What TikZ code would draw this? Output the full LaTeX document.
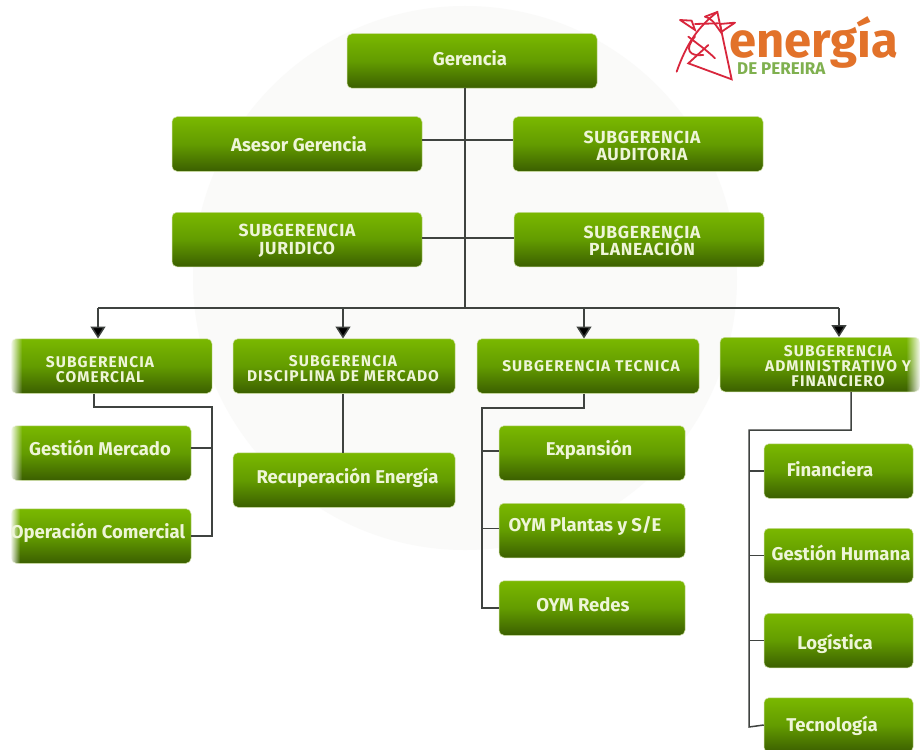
\documentclass[tikz,border=0pt]{standalone}
\usepackage{fontspec}
\setmainfont{Fira Sans}
\usetikzlibrary{fadings,arrows.meta}
\definecolor{gtop}{HTML}{7AB800}
\definecolor{gmid}{HTML}{639C00}
\definecolor{gbot}{HTML}{3B5F00}
\definecolor{txtc}{HTML}{EEF5D8}
\definecolor{wire}{HTML}{3F4340}
\definecolor{halo}{HTML}{FAFAF9}
\definecolor{logor}{HTML}{D8263C}
\definecolor{logoo}{HTML}{E2722A}
\definecolor{logog}{HTML}{7FB04F}
\definecolor{edgec}{HTML}{C9DC9A}
\tikzfading[name=fadeL,left color=transparent!0,right color=transparent!100]
\tikzfading[name=fadeR,left color=transparent!100,right color=transparent!0]
\tikzset{
  gbox/.style={rectangle,rounded corners=5pt,inner sep=0pt,draw=edgec,line width=.5pt,top color=gtop,bottom color=gbot,middle color=gmid,
    minimum width=#1},
  gbox/.default=180pt,
  hbig/.style={minimum height=54.5pt},
  lbl/.style={text=txtc,font=\bfseries\fontsize{18.5}{18.5}\selectfont,align=center,inner sep=0pt},
  capb/.style={text=txtc,font=\bfseries\fontsize{17.5}{17.5}\selectfont\addfontfeature{LetterSpace=4},align=center,inner sep=0pt},
  caps/.style={text=txtc,font=\bfseries\fontsize{15.5}{15}\selectfont\addfontfeature{LetterSpace=7},align=center,inner sep=0pt},
  wireline/.style={draw=wire,line width=1.5pt,line join=miter},
  arr/.style={wireline,-{Triangle[width=15pt,length=12pt,fill=black]}}
}
\begin{document}
\begin{tikzpicture}[x=1pt,y=-1pt]
\useasboundingbox (0,0) rectangle (920,749);
\fill[white] (0,0) rectangle (920,749);
\fill[halo] (465,278) circle (272pt);
% boxes
\node[gbox=250pt,hbig] (ger) at (472,61) {};
\node[gbox=250pt,hbig] (ase) at (297,144) {};
\node[gbox=250pt,hbig] (aud) at (638,144) {};
\node[gbox=250pt,hbig] (jur) at (297,239.5) {};
\node[gbox=250pt,hbig] (pla) at (639,239.5) {};
\node[gbox=201pt,hbig] (com) at (111.5,366) {};
\node[gbox=222pt,hbig] (dis) at (344,366) {};
\node[gbox=222pt,hbig] (tec) at (588,366) {};
\node[gbox=200pt,hbig] (adm) at (820,364.5) {};
\node[gbox=180pt,hbig] (gme) at (101,453) {};
\node[gbox=180pt,hbig] (ope) at (101,536) {};
\node[gbox=222pt,hbig] (rec) at (344,480) {};
\node[gbox=186pt,hbig] (exp) at (592,453) {};
\node[gbox=186pt,hbig] (oyp) at (592,530.5) {};
\node[gbox=186pt,hbig] (oyr) at (592,608) {};
\node[gbox=149pt,hbig] (fin) at (838.5,471) {};
\node[gbox=149pt,hbig] (ghu) at (838.5,555.5) {};
\node[gbox=149pt,hbig] (log) at (838.5,640.5) {};
\node[gbox=149pt,hbig] (tcn) at (838.5,725) {};
% edge fades
\fill[white,path fading=fadeL] (10,335) rectangle (22,397);
\fill[white,path fading=fadeL] (10,422) rectangle (22,484);
\fill[white,path fading=fadeL] (10,505) rectangle (20,567);
\fill[white,path fading=fadeR] (906,333) rectangle (921,396);
\fill[white] (0,330) rectangle (11,570);
% labels
\node[lbl] at (299,144) {Asesor Gerencia};
\node[lbl] at (470,58) {Gerencia};
\node[capb] at (642,146) {SUBGERENCIA\\AUDITORIA};
\node[capb] at (297,241) {SUBGERENCIA\\JURIDICO};
\node[capb] at (642,241) {SUBGERENCIA\\PLANEACIÓN};
\node[caps] at (100,370) {SUBGERENCIA\\COMERCIAL};
\node[caps] at (343,368.5) {SUBGERENCIA\\DISCIPLINA DE MERCADO};
\node[caps] at (591,366) {SUBGERENCIA TECNICA};
\node[caps] at (838,366) {SUBGERENCIA\\ADMINISTRATIVO Y\\FINANCIERO};
\node[lbl] at (100,448) {Gestión Mercado};
\node[lbl] at (98,533) {Operación Comercial};
\node[lbl] at (347.5,478) {Recuperación Energía};
\node[lbl] at (589,450) {Expansión};
\node[lbl] at (585,526) {OYM Plantas y S/E};
\node[lbl] at (583,605) {OYM Redes};
\node[lbl] at (830,469) {Financiera};
\node[lbl] at (841,553) {Gestión Humana};
\node[lbl] at (835,644) {Logística};
\node[lbl] at (832,726) {Tecnología};
% connector coordinates
\coordinate (tr) at (465,88);
\coordinate (bus) at (465,308);
\coordinate (b1) at (98,308);
\coordinate (b2) at (343,308);
\coordinate (b3) at (584,308);
\coordinate (b4) at (839,308);
\coordinate (j1) at (465,140);
\coordinate (j2) at (465,238);
\draw[wireline] (tr) -- (bus);
\draw[wireline] (ase.east |- j1) -- (aud.west |- j1);
\draw[wireline] (jur.east |- j2) -- (pla.west |- j2);
\draw[wireline] (b1) -- (b4);
\draw[arr] (b1) -- (b1 |- com.north);
\draw[arr] (b2) -- (b2 |- dis.north);
\draw[arr] (b3) -- (b3 |- tec.north);
\draw[arr] (b4) -- (b4 |- adm.north);
% comercial
\coordinate (c0) at (94,407);
\coordinate (c1) at (212,407);
\draw[wireline] (c0 |- com.south) -- (c0) -- (c1) -- (c1 |- ope.east) -- (ope.east);
\draw[wireline] (c1 |- gme.east) ++(0,-5) -- ++(-21,0);
% disciplina
\draw[wireline] (b2 |- dis.south) -- (b2 |- rec.north);
% tecnica
\coordinate (t0) at (584,408);
\coordinate (t1) at (482,408);
\draw[wireline] (t0 |- tec.south) -- (t0) -- (t1) -- (t1 |- oyr.west) -- (oyr.west);
\draw[wireline] (t1 |- exp.west) ++(0,-2) -- ++(17,0);
\draw[wireline] (t1 |- oyp.west) ++(0,-2) -- ++(17,0);
% administrativo
\coordinate (a0) at (851,430);
\coordinate (a1) at (749,430);
\draw[wireline] (a0 |- adm.south) -- (a0) -- (a1) -- (749,727) -- (tcn.west);
\draw[wireline] (a1 |- fin.west) -- (fin.west);
\draw[wireline] (a1 |- ghu.west) -- (ghu.west);
\draw[wireline] (a1 |- log.west) -- (log.west);
% logo
\begin{scope}[shift={(640,0)},x=.3333pt,y=-.3333pt,draw=logor,line width=1.8pt,line cap=round]
\draw (195,50) -- (232,36) -- (275,238) -- (145,190) -- (205,135);
\draw (232,36) .. controls (175,80) and (140,130) .. (110,215);
\draw (195,50) .. controls (215,55) and (220,65) .. (245,100);
\draw (120,60) -- (165,90) -- (155,62) -- (120,60);
\draw (285,68) -- (245,95) -- (240,72) -- (285,68);
\draw (165,72) -- (235,70);
\draw (145,110) .. controls (170,130) and (200,150) .. (225,175);
\draw (165,110) .. controls (130,150) and (150,170) .. (190,165);
\end{scope}
\node[text=logoo,font=\bfseries\fontsize{49}{49}\selectfont,inner sep=0pt,anchor=base west] (en) at (729,58) {energía};
\node[text=logog,font=\bfseries\fontsize{17}{17}\selectfont,inner sep=0pt,anchor=base west] (dp) at (737,75) {DE PEREIRA};
\end{tikzpicture}
\end{document}
